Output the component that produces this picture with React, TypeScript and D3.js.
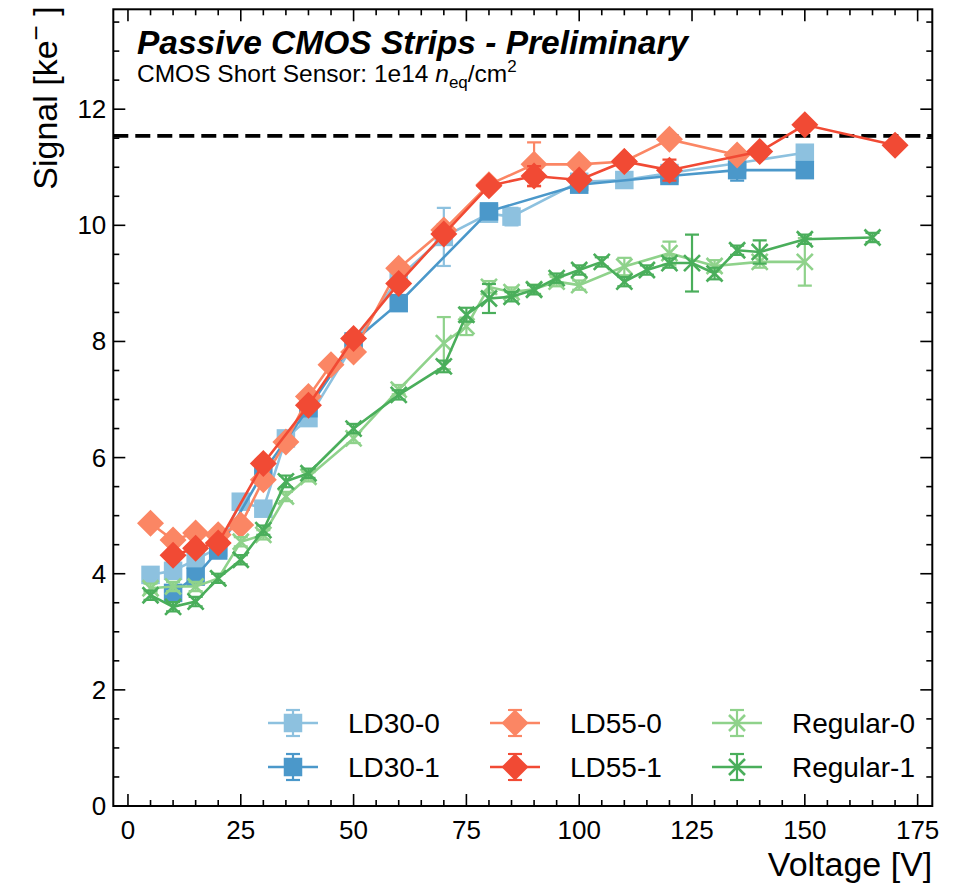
import React from "react";
import * as d3 from "d3";

const W = 955, H = 884;
const M = { left: 113.3, right: 932.3, top: 9.3, bottom: 806 };
const xDomain = [-3.25, 178.25];
const yDomain = [0, 13.72];
const xMajor = [0, 25, 50, 75, 100, 125, 150, 175];
const yMajor = [0, 2, 4, 6, 8, 10, 12];
const refLine = 11.54;

const ld300V = [5, 10, 15, 20, 25, 30, 35, 40, 50, 60, 70, 80, 85, 100, 110, 120, 135, 150];
const ld300S = [3.98, 4.05, 4.24, 4.45, 5.24, 5.12, 6.33, 6.68, 7.95, 9.1, 9.8, 10.2, 10.15, 10.75, 10.78, 10.9, 11.07, 11.25];
const ld300E = [0.05, 0.05, 0.05, 0.05, 0.05, 0.05, 0.05, 0.05, 0.05, 0.05, 0.5, 0.05, 0.15, 0.05, 0.05, 0.05, 0.1, 0.05];

const ld301V = [10, 15, 20, 30, 40, 50, 60, 80, 100, 120, 135, 150];
const ld301S = [3.67, 3.95, 4.4, 5.75, 6.85, 8.0, 8.66, 10.24, 10.7, 10.85, 10.95, 10.95];
const ld301E = [0.05, 0.1, 0.05, 0.05, 0.05, 0.05, 0.05, 0.05, 0.05, 0.05, 0.18, 0.05];

const ld550V = [5, 10, 15, 20, 25, 30, 35, 40, 45, 50, 60, 70, 80, 90, 100, 110, 120, 135];
const ld550S = [4.87, 4.58, 4.7, 4.67, 4.84, 5.62, 6.27, 7.05, 7.6, 7.82, 9.26, 9.92, 10.7, 11.05, 11.05, 11.1, 11.48, 11.21];
const ld550E = [0.05, 0.05, 0.05, 0.05, 0.05, 0.05, 0.05, 0.05, 0.05, 0.05, 0.05, 0.1, 0.05, 0.38, 0.05, 0.05, 0.05, 0.05];

const ld551V = [10, 15, 20, 30, 40, 50, 60, 70, 80, 90, 100, 110, 120, 140, 150, 170];
const ld551S = [4.32, 4.44, 4.53, 5.9, 6.9, 8.05, 9.0, 9.85, 10.68, 10.85, 10.78, 11.1, 10.95, 11.27, 11.73, 11.38];
const ld551E = [0.05, 0.05, 0.05, 0.05, 0.05, 0.05, 0.05, 0.05, 0.05, 0.17, 0.05, 0.05, 0.18, 0.05, 0.05, 0.05];

const reg0V = [5, 10, 15, 20, 25, 30, 35, 40, 50, 60, 70, 75, 80, 85, 90, 95, 100, 110, 120, 130, 140, 150];
const reg0S = [3.75, 3.78, 3.78, 3.92, 4.55, 4.67, 5.33, 5.67, 6.33, 7.17, 7.97, 8.26, 8.94, 8.85, 8.9, 9.03, 8.97, 9.29, 9.52, 9.3, 9.37, 9.37];
const reg0E = [0.08, 0.08, 0.08, 0.08, 0.08, 0.08, 0.08, 0.08, 0.08, 0.08, 0.45, 0.15, 0.1, 0.08, 0.08, 0.08, 0.08, 0.15, 0.2, 0.1, 0.1, 0.41];

const reg1V = [5, 10, 15, 20, 25, 30, 35, 40, 50, 60, 70, 75, 80, 85, 90, 95, 100, 105, 110, 115, 120, 125, 130, 135, 140, 150, 165];
const reg1S = [3.63, 3.43, 3.52, 3.92, 4.24, 4.75, 5.59, 5.73, 6.5, 7.08, 7.57, 8.46, 8.74, 8.77, 8.89, 9.09, 9.23, 9.37, 9.03, 9.23, 9.35, 9.35, 9.17, 9.57, 9.54, 9.76, 9.79];
const reg1E = [0.08, 0.08, 0.08, 0.08, 0.08, 0.08, 0.1, 0.08, 0.08, 0.08, 0.1, 0.12, 0.25, 0.08, 0.08, 0.08, 0.08, 0.08, 0.08, 0.08, 0.08, 0.49, 0.1, 0.08, 0.2, 0.08, 0.08];

const seriesNames = ["LD30-0", "LD30-1", "LD55-0", "LD55-1", "Regular-0", "Regular-1"];
const seriesColors = ["#8dc1df", "#4b98ca", "#fb8664", "#f14a34", "#8fd28b", "#4aae5b"];
const seriesMarkers = ["square", "square", "diamond", "diamond", "x", "x"];
const seriesData = [
  [ld300V, ld300S, ld300E],
  [ld301V, ld301S, ld301E],
  [ld550V, ld550S, ld550E],
  [ld551V, ld551S, ld551E],
  [reg0V, reg0S, reg0E],
  [reg1V, reg1S, reg1E],
];

const FONT = "'Liberation Sans', Arial, Helvetica, sans-serif";

function Marker({ kind, x, y, color }: { kind: string; x: number; y: number; color: string }) {
  if (kind === "square") {
    const s = 18.5;
    return <rect x={x - s / 2} y={y - s / 2} width={s} height={s} fill={color} />;
  }
  if (kind === "diamond") {
    const r = 13.5;
    return <path d={`M${x},${y - r}L${x + r},${y}L${x},${y + r}L${x - r},${y}Z`} fill={color} />;
  }
  const r = 8;
  return (
    <path d={`M${x - r},${y - r}L${x + r},${y + r}M${x - r},${y + r}L${x + r},${y - r}`} stroke={color} strokeWidth={2.6} fill="none" />
  );
}

export default function App() {
  const x = d3.scaleLinear().domain(xDomain).range([M.left, M.right]);
  const y = d3.scaleLinear().domain(yDomain).range([M.bottom, M.top]);
  const line = d3.line<[number, number]>().x((d) => x(d[0])).y((d) => y(d[1]));

  const xMinor = d3.range(0, 180, 5).filter((v) => v % 25 !== 0);
  const yMinor = d3.range(0, 13.75, 0.5).filter((v) => v % 2 !== 0);

  const capW = 7;

  return (
    <svg width={W} height={H} style={{ display: "block", position: "absolute", left: 0, top: 0, background: "#fff" }}>
      <defs>
        <clipPath id="plotclip">
          <rect x={M.left} y={M.top} width={M.right - M.left} height={M.bottom - M.top} />
        </clipPath>
      </defs>
      <rect width={W} height={H} fill="#fff" />

      {/* reference line */}
      <line x1={M.left} x2={M.right} y1={y(refLine)} y2={y(refLine)} stroke="#000" strokeWidth={3.6} strokeDasharray="15 7" />

      {/* series */}
      <g clipPath="url(#plotclip)">
        {seriesData.map(([vs, ss, es], i) => {
          const pts = vs.map((v, j) => [v, ss[j]] as [number, number]);
          const col = seriesColors[i];
          return (
            <g key={i}>
              <path d={line(pts) || ""} fill="none" stroke={col} strokeWidth={2.6} />
              {vs.map((v, j) => {
                const cx = x(v);
                const y1 = y(ss[j] - es[j]);
                const y2 = y(ss[j] + es[j]);
                return (
                  <g key={j} stroke={col} strokeWidth={2.2}>
                    <line x1={cx} x2={cx} y1={y1} y2={y2} />
                    <line x1={cx - capW} x2={cx + capW} y1={y1} y2={y1} />
                    <line x1={cx - capW} x2={cx + capW} y1={y2} y2={y2} />
                  </g>
                );
              })}
              {vs.map((v, j) => (
                <Marker key={"m" + j} kind={seriesMarkers[i]} x={x(v)} y={y(ss[j])} color={col} />
              ))}
            </g>
          );
        })}
      </g>

      {/* ticks */}
      <g stroke="#000" strokeWidth={1.6}>
        {xMajor.map((v) => (
          <g key={"xM" + v}>
            <line x1={x(v)} x2={x(v)} y1={M.bottom} y2={M.bottom - 12} />
            <line x1={x(v)} x2={x(v)} y1={M.top} y2={M.top + 12} />
          </g>
        ))}
        {xMinor.map((v) => (
          <g key={"xm" + v}>
            <line x1={x(v)} x2={x(v)} y1={M.bottom} y2={M.bottom - 6} />
            <line x1={x(v)} x2={x(v)} y1={M.top} y2={M.top + 6} />
          </g>
        ))}
        {yMajor.map((v) => (
          <g key={"yM" + v}>
            <line x1={M.left} x2={M.left + 12} y1={y(v)} y2={y(v)} />
            <line x1={M.right} x2={M.right - 12} y1={y(v)} y2={y(v)} />
          </g>
        ))}
        {yMinor.map((v) => (
          <g key={"ym" + v}>
            <line x1={M.left} x2={M.left + 6} y1={y(v)} y2={y(v)} />
            <line x1={M.right} x2={M.right - 6} y1={y(v)} y2={y(v)} />
          </g>
        ))}
      </g>
      <rect x={M.left} y={M.top} width={M.right - M.left} height={M.bottom - M.top} fill="none" stroke="#000" strokeWidth={2} />

      {/* tick labels */}
      <g fontFamily={FONT} fontSize={26} fill="#000">
        {xMajor.map((v) => (
          <text key={"xl" + v} x={x(v)} y={M.bottom + 33} textAnchor="middle">{v}</text>
        ))}
        {yMajor.map((v) => (
          <text key={"yl" + v} x={M.left - 7} y={y(v) + 9} textAnchor="end">{v}</text>
        ))}
      </g>

      {/* axis labels */}
      <text x={M.right} y={876} textAnchor="end" fontFamily={FONT} fontSize={34}>Voltage [V]</text>
      <text transform={`translate(57,${M.top - 3}) rotate(-90)`} textAnchor="end" fontFamily={FONT} fontSize={34}>
        Signal [ke<tspan dy={-12} fontSize={26}>−</tspan><tspan dy={12}> ]</tspan>
      </text>

      {/* titles */}
      <text x={137} y={54} fontFamily={FONT} fontSize={33.5} fontWeight="bold" fontStyle="italic">Passive CMOS Strips - Preliminary</text>
      <text x={137} y={82} fontFamily={FONT} fontSize={24.5}>
        CMOS Short Sensor: 1e14 <tspan fontStyle="italic">n</tspan><tspan fontSize={17} dy={6}>eq</tspan><tspan dy={-6}>/cm</tspan><tspan fontSize={17} dy={-10}>2</tspan>
      </text>

      {/* legend */}
      <g fontFamily={FONT} fontSize={28}>
        {seriesNames.map((nm, i) => {
          const col = Math.floor(i / 2);
          const row = i % 2;
          const lx = [268, 490, 712][col];
          const ly = [723, 767][row];
          const c = seriesColors[i];
          return (
            <g key={nm}>
              <line x1={lx} x2={lx + 50} y1={ly} y2={ly} stroke={c} strokeWidth={2.6} />
              <g stroke={c} strokeWidth={2.2}>
                <line x1={lx + 25} x2={lx + 25} y1={ly - 13} y2={ly + 13} />
                <line x1={lx + 25 - capW} x2={lx + 25 + capW} y1={ly - 13} y2={ly - 13} />
                <line x1={lx + 25 - capW} x2={lx + 25 + capW} y1={ly + 13} y2={ly + 13} />
              </g>
              <Marker kind={seriesMarkers[i]} x={lx + 25} y={ly} color={c} />
              <text x={lx + 80} y={ly + 10} fill="#000">{nm}</text>
            </g>
          );
        })}
      </g>
    </svg>
  );
}
